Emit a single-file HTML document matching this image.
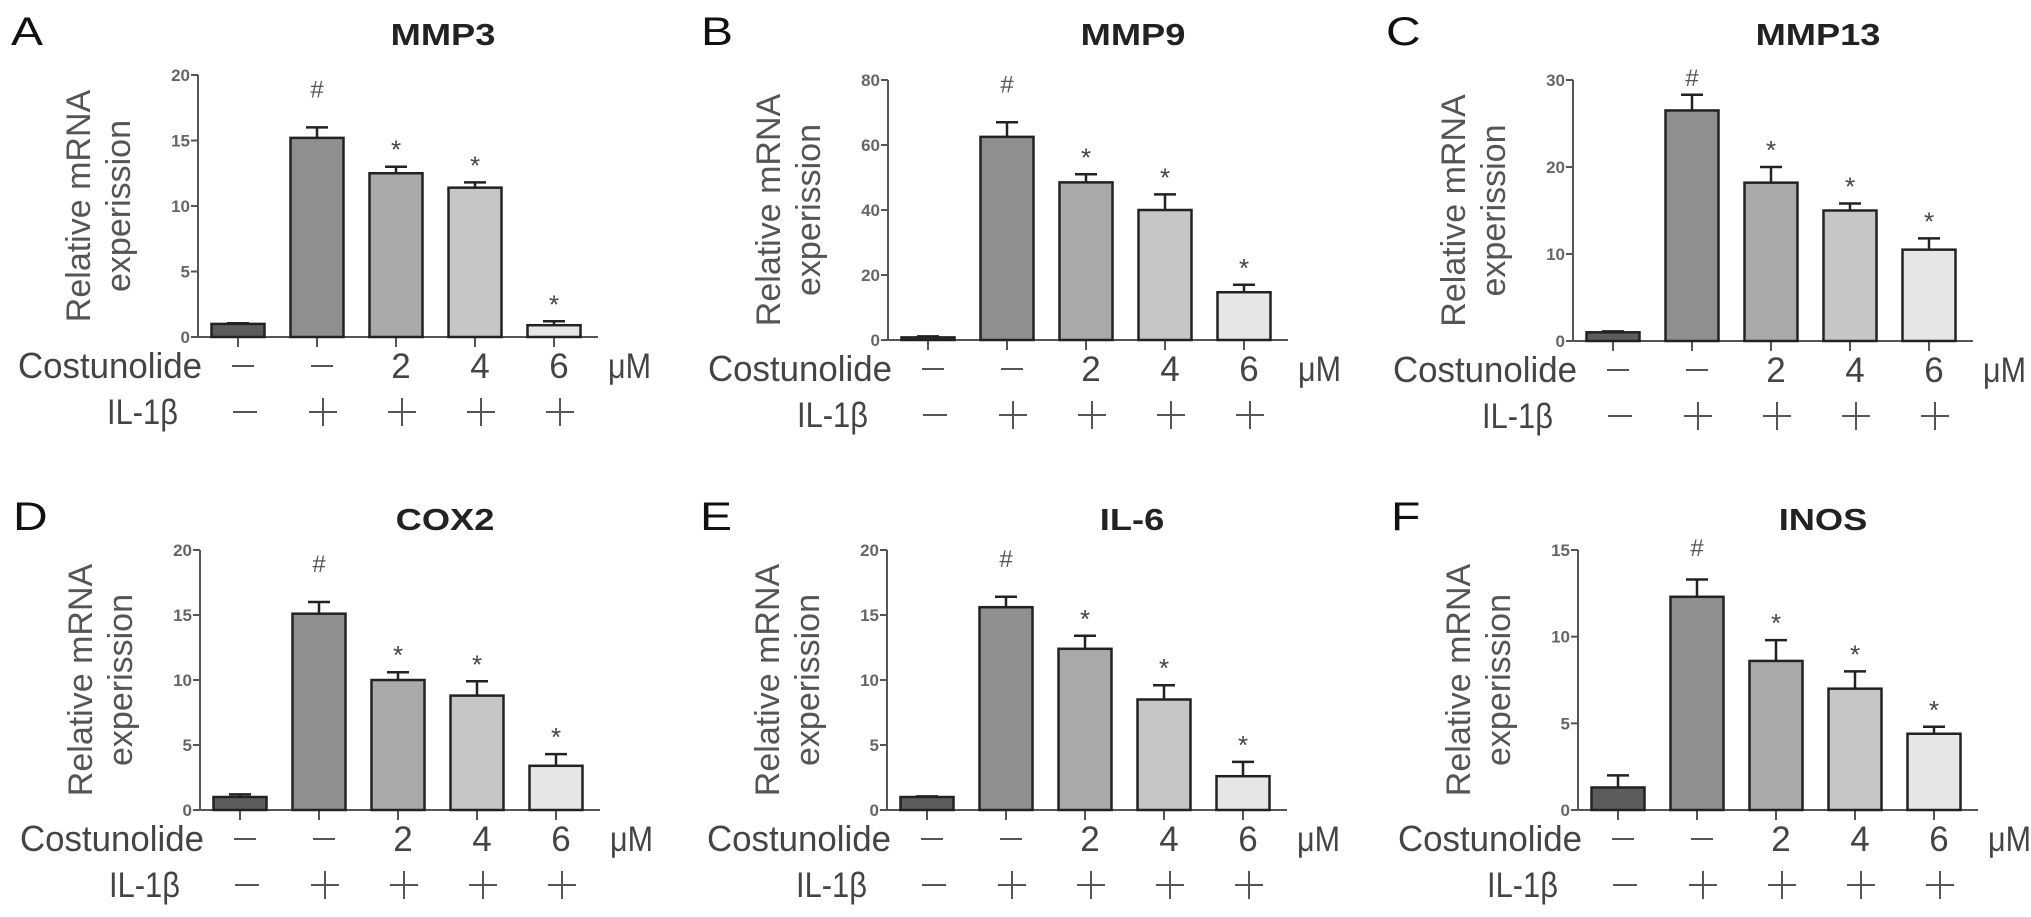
<!DOCTYPE html>
<html><head><meta charset="utf-8"><style>
html,body{margin:0;padding:0;background:#fff;}
svg{display:block;font-family:"Liberation Sans",sans-serif;}
</style></head><body>
<svg id="fig" width="2031" height="917" viewBox="0 0 2031 917" xmlns="http://www.w3.org/2000/svg"></svg>
<script>
const groups = ["control","il1b","c2","c4","c6"];
const costLabels = ["—","—","2","4","6"];
const ilLabels = ["—","+","+","+","+"];
const titles = ["MMP3","MMP9","MMP13","COX2","IL-6","INOS"];
const letters = ["A","B","C","D","E","F"];
const maxes = [20,80,30,20,20,15];
const tickSteps = [5,20,10,5,5,5];
const mmp3Vals = [1.0,15.2,12.5,11.4,0.9];
const mmp3Err = [0.05,0.8,0.5,0.4,0.3];
const mmp9Vals = [0.8,62.5,48.5,40.0,14.7];
const mmp9Err = [0.3,4.5,2.5,4.8,2.3];
const mmp13Vals = [1.0,26.5,18.2,15.0,10.5];
const mmp13Err = [0.1,1.8,1.8,0.8,1.3];
const cox2Vals = [1.0,15.1,10.0,8.8,3.4];
const cox2Err = [0.2,0.9,0.6,1.1,0.9];
const il6Vals = [1.0,15.6,12.4,8.5,2.6];
const il6Err = [0.05,0.8,1.0,1.1,1.1];
const inosVals = [1.3,12.3,8.6,7.0,4.4];
const inosErr = [0.7,1.0,1.2,1.0,0.4];
const marks = ["","#","*","*","*"];

const valsAll=[mmp3Vals,mmp9Vals,mmp13Vals,cox2Vals,il6Vals,inosVals];
const errAll=[mmp3Err,mmp9Err,mmp13Err,cox2Err,il6Err,inosErr];
const layout=[{ax:198,top:75,y0:337,ty:45},{ax:888,top:80,y0:340,ty:45},{ax:1573,top:80,y0:341,ty:45},
 {ax:200,top:550,y0:810,ty:530},{ax:887,top:550,y0:810,ty:530},{ax:1578,top:550,y0:810,ty:530}];
const fills=["#5c5c5c","#8f8f8f","#a9a9a9","#c6c6c6","#e6e6e6"];
const NS="http://www.w3.org/2000/svg";
const svg=document.getElementById('fig');
function mk(tag,attrs,parent,text){const e=document.createElementNS(NS,tag);for(const k in attrs)e.setAttribute(k,attrs[k]);if(text!==undefined)e.textContent=text;parent.appendChild(e);return e;}

for(let p=0;p<6;p++){
 const L=layout[p], vals=valsAll[p], errs=errAll[p], max=maxes[p];
 const g=mk('g',{},svg);
 
 
 const y=v=>L.y0-(v/max)*(L.y0-L.top);
 const x=i=>L.ax+40+i*79;
 const t1=mk('text',{transform:`translate(${L.ax-187},${L.ty}) scale(1.2,1)`,'font-size':40,fill:'#111'},g,letters[p]);
 
 
 const tt=mk('text',{transform:`translate(${L.ax+245},${L.ty}) scale(1.17,1)`,'font-size':31,'font-weight':'bold',fill:'#222','text-anchor':'middle'},g,titles[p]);
 
 
 const yt=mk('text',{transform:`translate(${L.ax-108},${(L.top+L.y0)/2}) rotate(-90)`,'font-size':34,fill:'#555','text-anchor':'middle'},g,'Relative mRNA');
 
 
 const yt2=mk('text',{transform:`translate(${L.ax-68},${(L.top+L.y0)/2}) rotate(-90)`,'font-size':34,fill:'#555','text-anchor':'middle'},g,'experission');
 
 
 const ya=mk('line',{x1:L.ax,y1:L.top,x2:L.ax,y2:L.y0,stroke:'#555','stroke-width':2},g);
 
 
 const xa=mk('line',{x1:L.ax,y1:L.y0,x2:L.ax+400,y2:L.y0,stroke:'#555','stroke-width':2},g);
 
 
 for(let v=0;v<=max;v+=tickSteps[p]){
  mk('line',{x1:L.ax-7,y1:y(v),x2:L.ax,y2:y(v),stroke:'#555','stroke-width':2},g);
  const tl=mk('text',{x:L.ax-8,y:y(v)+6,'font-size':17,'font-weight':'bold',fill:'#666','text-anchor':'end'},g,String(v));
  
  
 }
 for(let i=0;i<5;i++){
  const cx=x(i), v=vals[i], top=y(v), et=y(v+errs[i]);
  mk('line',{x1:cx,y1:L.y0,x2:cx,y2:L.y0+10,stroke:'#555','stroke-width':2},g);
  const el=mk('line',{x1:cx,y1:top,x2:cx,y2:et,stroke:'#222','stroke-width':2.5},g);
  
  
  mk('line',{x1:cx-11,y1:et,x2:cx+11,y2:et,stroke:'#222','stroke-width':2.5},g);
  const b=mk('rect',{x:cx-26.5,y:top,width:53,height:L.y0-top,fill:fills[i],stroke:'#222','stroke-width':2.5},g);
  
  
  if(marks[i]==='#'){
   const m=mk('text',{x:cx,y:Math.max(et-30,L.top+6),'font-size':24,fill:'#555','text-anchor':'middle'},g,'#');
   
   
  } else if(marks[i]==='*'){
   const m=mk('text',{x:cx,y:et-8,'font-size':26,fill:'#444','text-anchor':'middle'},g,'*');
   
   
  }
  const cl=mk('text',{x:cx+5,y:L.y0+41,'font-size':35,fill:'#444','text-anchor':'middle'},g,costLabels[i]==='—'?'':costLabels[i]);
  
  
  if(costLabels[i]==='—') mk('line',{x1:cx-6,y1:L.y0+29,x2:cx+16,y2:L.y0+29,stroke:'#555','stroke-width':2},g);
  if(ilLabels[i]==='+'){
   mk('line',{x1:cx-8,y1:L.y0+75,x2:cx+20,y2:L.y0+75,stroke:'#555','stroke-width':2},g);
   mk('line',{x1:cx+6,y1:L.y0+61,x2:cx+6,y2:L.y0+89,stroke:'#555','stroke-width':2},g);
  } else {
   mk('line',{x1:cx-5,y1:L.y0+75,x2:cx+19,y2:L.y0+75,stroke:'#555','stroke-width':2},g);
  }
 }
 const c=mk('text',{x:L.ax-180,y:L.y0+41,'font-size':36,fill:'#444',textLength:184,lengthAdjust:'spacingAndGlyphs'},g,'Costunolide');
 
 
 const u=mk('text',{x:L.ax+410,y:L.y0+41,'font-size':35,fill:'#444',textLength:43,lengthAdjust:'spacingAndGlyphs'},g,'μM');
 
 
 const il=mk('text',{x:L.ax-91,y:L.y0+87,'font-size':35,fill:'#444',textLength:71,lengthAdjust:'spacingAndGlyphs'},g,'IL-1β');
 
 
}
</script>
</body></html>
